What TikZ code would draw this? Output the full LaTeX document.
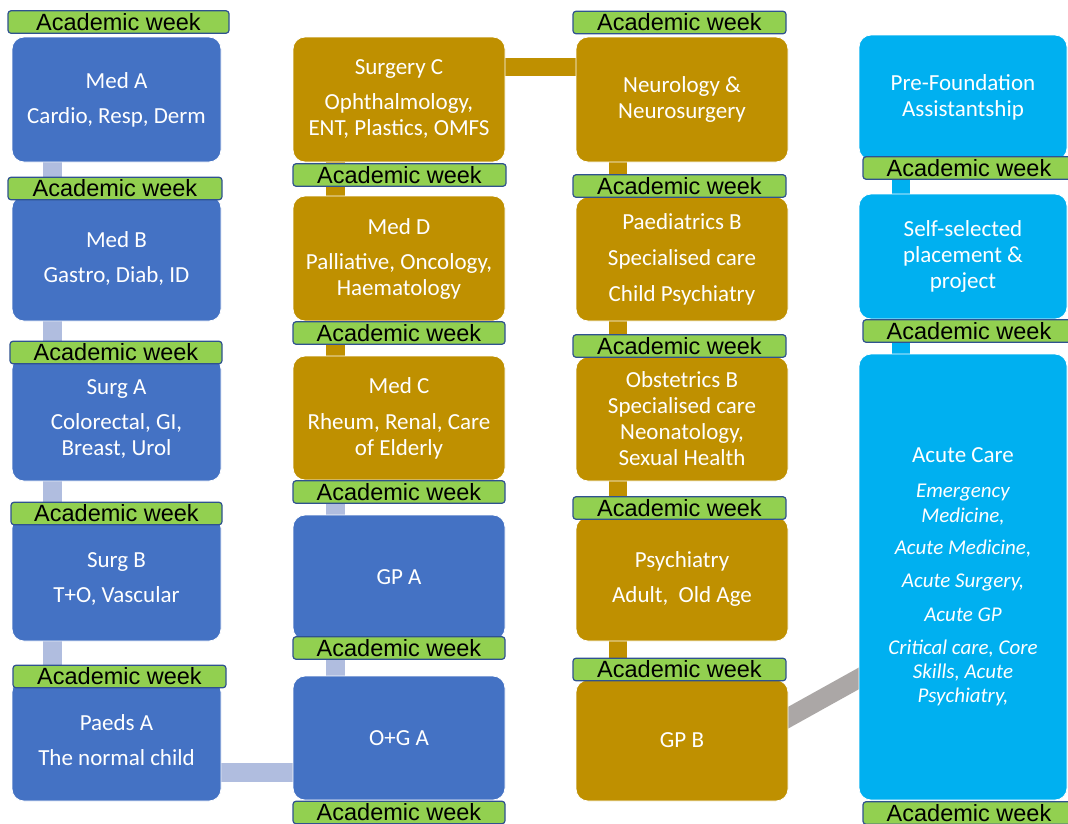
\documentclass[tikz,border=0pt]{standalone}
\usepackage{fontspec}
\setmainfont{Carlito}
\newfontfamily\arialf{Liberation Sans}
\usetikzlibrary{backgrounds,calc}
\definecolor{mblue}{HTML}{4472C4}
\definecolor{mgold}{HTML}{BF9000}
\definecolor{mcyan}{HTML}{00B0F0}
\definecolor{awgreen}{HTML}{92D050}
\definecolor{awline}{HTML}{2F528F}
\definecolor{lblue}{HTML}{B0BDDF}
\definecolor{lgray}{HTML}{ABA7A6}
\begin{document}
\begin{tikzpicture}[x=1pt,y=-1pt,
  box/.style={rectangle, rounded corners=12pt, draw=white, line width=0.8pt, inner sep=0pt, text=white, align=center, font=\fontsize{23}{26}\selectfont},
  bluebox/.style={box, fill=mblue},
  goldbox/.style={box, fill=mgold},
  cyanbox/.style={box, fill=mcyan},
  aw/.style={rectangle, rounded corners=3pt, draw=awline, fill=awgreen, line width=1.2pt, inner sep=0pt, text=black, font=\arialf\fontsize{23.5}{24}\selectfont, minimum height=22.5pt},
  lk/.style={line width=18.5pt},
]
\useasboundingbox (0,0) rectangle (1068,823);
\clip (0,0) rectangle (1068,823);

% column 1
\node[bluebox, minimum width=209pt, minimum height=125pt] (medA) at (116.5,99.5) {Med A\\[9pt]Cardio, Resp, Derm};
\node[bluebox, minimum width=209pt, minimum height=125pt] (medB) at (116.5,258.5) {Med B\\[9pt]Gastro, Diab, ID};
\node[bluebox, minimum width=209pt, minimum height=124pt] (surgA) at (116.5,419) {Surg A\\[9pt]Colorectal, GI,\\Breast, Urol};
\node[bluebox, minimum width=209pt, minimum height=125pt] (surgB) at (116.5,578.5) {Surg B\\[9pt]T+O, Vascular};
\node[bluebox, minimum width=209pt, minimum height=121pt] (paedsA) at (116.5,740.5) {Paeds A\\[9pt]The normal child};

% column 2
\node[goldbox, minimum width=212pt, minimum height=125pt] (surgC) at (399,99.5) {Surgery C\\[9pt]Ophthalmology,\\ENT, Plastics, OMFS};
\node[goldbox, minimum width=212pt, minimum height=125pt] (medD) at (399,258.5) {Med D\\[9pt]Palliative, Oncology,\\Haematology};
\node[goldbox, minimum width=212pt, minimum height=124pt] (medC) at (399,418) {Med C\\[10pt]Rheum, Renal, Care\\of Elderly};
\node[bluebox, minimum width=212pt, minimum height=125pt] (gpA) at (399,577.5) {GP A};
\node[bluebox, minimum width=212pt, minimum height=124pt] (ogA) at (399,738) {O+G A};

% column 3
\node[goldbox, minimum width=212pt, minimum height=125pt] (neuro) at (682,99.5) {Neurology \&\\Neurosurgery};
\node[goldbox, minimum width=212pt, minimum height=124pt] (paedsB) at (682,259) {Paediatrics B\\[10pt]Specialised care\\[10pt]Child Psychiatry};
\node[goldbox, minimum width=212pt, minimum height=124pt] (obsB) at (682,419) {Obstetrics B\\Specialised care\\Neonatology,\\Sexual Health};
\node[goldbox, minimum width=212pt, minimum height=124pt] (psych) at (682,579) {Psychiatry\\[9pt]Adult,~ Old Age};
\node[goldbox, minimum width=212pt, minimum height=121pt] (gpB) at (682,740.5) {GP B};

% column 4
\node[cyanbox, minimum width=208pt, minimum height=125pt] (preF) at (963,97.5) {Pre-Foundation\\Assistantship};
\node[cyanbox, minimum width=208pt, minimum height=125pt] (self) at (963,256.5) {Self-selected\\placement \&\\project};
\node[cyanbox, minimum width=208pt, minimum height=446pt, font=\fontsize{21}{24}\selectfont\itshape] (acute) at (963,577)
  {{\upshape\fontsize{23}{24}\selectfont Acute Care}\\[11pt]Emergency\\[1pt]Medicine,\\[8pt]Acute Medicine,\\[9pt]Acute Surgery,\\[10pt]Acute GP\\[9pt]Critical care, Core\\Skills, Acute\\Psychiatry,};

% academic weeks
\node[aw, minimum width=221pt] (aw1a) at (118.5,22) {Academic week};
\node[aw, minimum width=214pt] (aw1b) at (115,188.5) {Academic week};
\node[aw, minimum width=212pt] (aw1c) at (116,352.5) {Academic week};
\node[aw, minimum width=211pt] (aw1d) at (116.5,513.5) {Academic week};
\node[aw, minimum width=213pt] (aw1e) at (119.5,676.5) {Academic week};

\node[aw, minimum width=213pt] (aw2a) at (399.5,175) {Academic week};
\node[aw, minimum width=212pt] (aw2b) at (399,333) {Academic week};
\node[aw, minimum width=212pt] (aw2c) at (399,492) {Academic week};
\node[aw, minimum width=212pt] (aw2d) at (399,648) {Academic week};
\node[aw, minimum width=212pt] (aw2e) at (399,812.5) {Academic week};

\node[aw, minimum width=213pt] (aw3a) at (679.5,22.5) {Academic week};
\node[aw, minimum width=213pt] (aw3b) at (679.5,186) {Academic week};
\node[aw, minimum width=213pt] (aw3c) at (679.5,346) {Academic week};
\node[aw, minimum width=213pt] (aw3d) at (679.5,508) {Academic week};
\node[aw, minimum width=213pt] (aw3e) at (679.5,669.5) {Academic week};

\node[aw, minimum width=212pt] (aw4a) at (969,168) {Academic week};
\node[aw, minimum width=212pt] (aw4b) at (969,331) {Academic week};
\node[aw, minimum width=212pt] (aw4c) at (969,813) {Academic week};

% connectors
\begin{scope}[on background layer]
\draw[lk, lblue] ([xshift=41pt]medA.south west) -- ([xshift=41pt]medB.north west);
\draw[lk, lblue] ([xshift=41pt]medB.south west) -- ([xshift=41pt]surgA.north west);
\draw[lk, lblue] ([xshift=41pt]surgA.south west) -- ([xshift=41pt]surgB.north west);
\draw[lk, lblue] ([xshift=41pt]surgB.south west) -- ([xshift=41pt]paedsA.north west);
\draw[lk, lblue, line width=19pt] ([yshift=-32pt]paedsA.east) -- ([yshift=-34.5pt]ogA.west);

\draw[lk, mgold] ([xshift=43pt]surgC.south west) -- ([xshift=43pt]medD.north west);
\draw[lk, mgold] ([xshift=43pt]medD.south west) -- ([xshift=43pt]medC.north west);
\draw[lk, lblue] ([xshift=43pt]medC.south west) -- ([xshift=43pt]gpA.north west);
\draw[lk, lblue] ([xshift=43pt]gpA.south west) -- ([xshift=43pt]ogA.north west);
\draw[lk, mgold] ([yshift=32.5pt]surgC.east) -- ([yshift=32.5pt]neuro.west);

\draw[lk, mgold] ([xshift=42.5pt]neuro.south west) -- ([xshift=42.5pt]paedsB.north west);
\draw[lk, mgold] ([xshift=42.5pt]paedsB.south west) -- ([xshift=42.5pt]obsB.north west);
\draw[lk, mgold] ([xshift=42.5pt]obsB.south west) -- ([xshift=42.5pt]psych.north west);
\draw[lk, mgold] ([xshift=42.5pt]psych.south west) -- ([xshift=42.5pt]gpB.north west);
\draw[lk, lgray, line width=19pt] ($(gpB.east)+(-11.1,-16.8)$) -- ($(acute.west)+(12.1,94.8)$);

\draw[lk, mcyan] ([xshift=42.5pt]preF.south west) -- ([xshift=42.5pt]self.north west);
\draw[lk, mcyan] ([xshift=42.5pt]self.south west) -- ([xshift=42.5pt]acute.north west);
\end{scope}
\end{tikzpicture}
\end{document}
